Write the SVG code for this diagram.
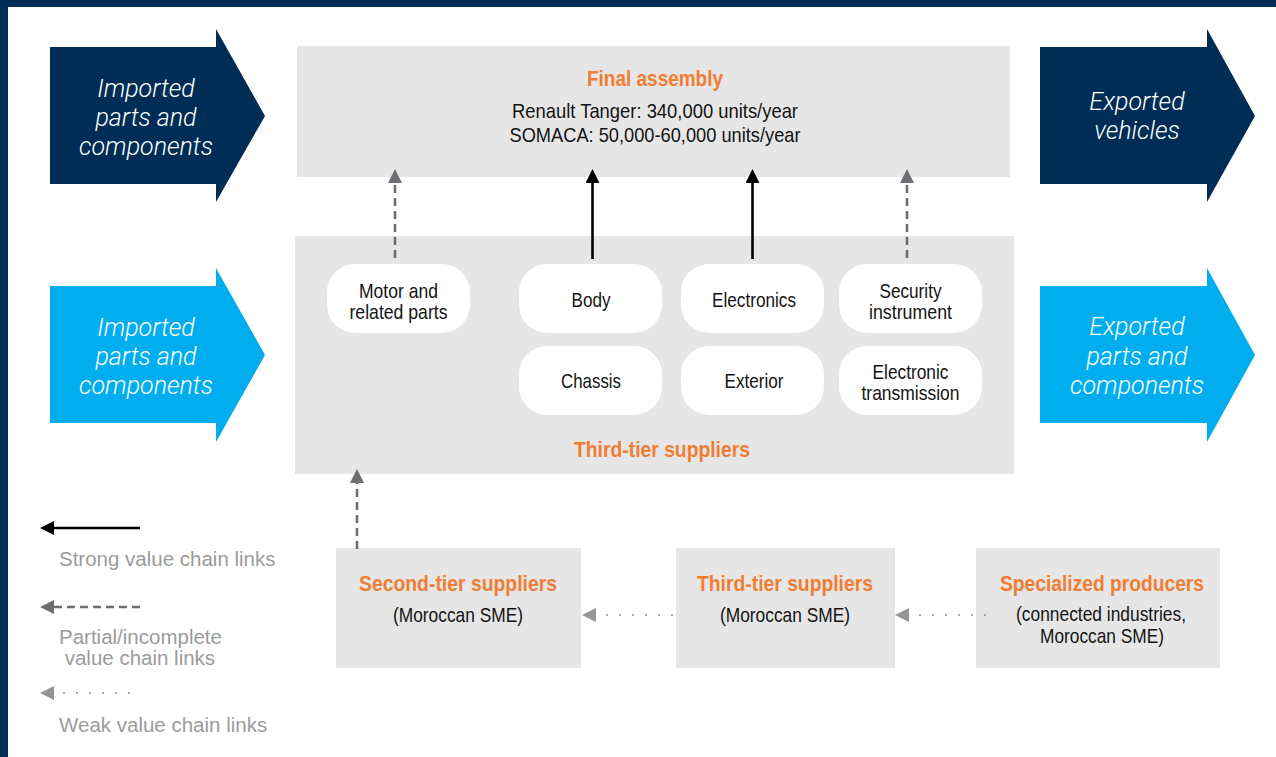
<svg xmlns="http://www.w3.org/2000/svg" width="1276" height="757" viewBox="0 0 1276 757">
  <style>
    .navy { fill: #002D56; }
    .cyan { fill: #00AEEF; }
    .box { fill: #E6E6E6; }
    .pill { fill: #FFFFFF; }
    .flowTxt { font-family: Roboto, "Liberation Sans", Arial, sans-serif; font-style: italic; font-weight: 300; font-size: 25px; fill: #FFFFFF; text-anchor: middle; }
    .cond { font-family: "Liberation Sans", Arial, sans-serif; text-anchor: middle; }
    .title { font-weight: bold; font-size: 22px; fill: #F07D33; }
    .body { font-size: 21px; fill: #141414; }
    .legend { font-family: "Liberation Sans", Arial, sans-serif; font-size: 20.5px; fill: #9B9B9B; }
    .strong { stroke: #000000; stroke-width: 2.6; fill: none; }
    .partial { stroke: #6D6E71; stroke-width: 2.6; stroke-dasharray: 8 5; fill: none; }
    .weak { stroke: #A7A9AC; stroke-width: 2; stroke-dasharray: 2 11; fill: none; }
  </style>
  <defs>
    <marker id="headStrong" viewBox="0 0 14 14" refX="0" refY="7" markerWidth="14" markerHeight="14" markerUnits="userSpaceOnUse" orient="auto">
      <path d="M0,0 L14,7 L0,14 Z" fill="#000000"/>
    </marker>
    <marker id="headPartial" viewBox="0 0 14 14" refX="0" refY="7" markerWidth="14" markerHeight="14" markerUnits="userSpaceOnUse" orient="auto">
      <path d="M0,0 L14,7 L0,14 Z" fill="#6D6E71"/>
    </marker>
    <marker id="headWeak" viewBox="0 0 14 14" refX="0" refY="7" markerWidth="14" markerHeight="14" markerUnits="userSpaceOnUse" orient="auto">
      <path d="M0,0 L14,7 L0,14 Z" fill="#939598"/>
    </marker>
  </defs>

  <!-- page and frame -->
  <rect x="0" y="0" width="1276" height="757" fill="#FFFFFF"/>
  <rect class="navy" x="0" y="0" width="1276" height="7"/>
  <rect class="navy" x="0" y="0" width="8" height="757"/>

  <!-- inflow / outflow arrows -->
  <g id="imported-vehicles-parts">
    <polygon class="navy" points="50,47 216,47 216,29 265,116 216,202 216,184 50,184"/>
    <text class="flowTxt"><tspan x="146" y="97">Imported</tspan><tspan x="146" y="126">parts and</tspan><tspan x="146" y="155">components</tspan></text>
  </g>
  <g id="imported-parts">
    <polygon class="cyan" points="50,286 216,286 216,268 265,355 216,442 216,423 50,423"/>
    <text class="flowTxt"><tspan x="146" y="336">Imported</tspan><tspan x="146" y="365">parts and</tspan><tspan x="146" y="394">components</tspan></text>
  </g>
  <g id="exported-vehicles">
    <polygon class="navy" points="1040,47 1207,47 1207,29 1255,116 1207,202 1207,184 1040,184"/>
    <text class="flowTxt"><tspan x="1137" y="110">Exported</tspan><tspan x="1137" y="139">vehicles</tspan></text>
  </g>
  <g id="exported-parts">
    <polygon class="cyan" points="1040,286 1207,286 1207,268 1255,355 1207,442 1207,423 1040,423"/>
    <text class="flowTxt"><tspan x="1137" y="335">Exported</tspan><tspan x="1137" y="365">parts and</tspan><tspan x="1137" y="394">components</tspan></text>
  </g>

  <!-- final assembly -->
  <g id="final-assembly">
    <rect class="box" x="297" y="46" width="713" height="131"/>
    <text class="cond title" x="655" y="86" textLength="136" lengthAdjust="spacingAndGlyphs">Final assembly</text>
    <text class="cond body" x="655" y="118" textLength="286" lengthAdjust="spacingAndGlyphs">Renault Tanger: 340,000 units/year</text>
    <text class="cond body" x="655" y="142" textLength="291" lengthAdjust="spacingAndGlyphs">SOMACA: 50,000-60,000 units/year</text>
  </g>

  <!-- third-tier suppliers cluster -->
  <g id="third-tier-cluster">
    <rect class="box" x="295" y="236" width="719" height="238"/>
    <text class="cond title" x="662" y="457" textLength="176" lengthAdjust="spacingAndGlyphs">Third-tier suppliers</text>
  </g>
  <g id="motor">
    <rect class="pill" x="327" y="264" width="143" height="69" rx="28"/>
    <text class="cond body" x="398.5" y="298" textLength="79" lengthAdjust="spacingAndGlyphs">Motor and</text>
    <text class="cond body" x="398.5" y="319" textLength="98" lengthAdjust="spacingAndGlyphs">related parts</text>
  </g>
  <g id="body">
    <rect class="pill" x="519" y="264" width="143" height="69" rx="28"/>
    <text class="cond body" x="591" y="307" textLength="39" lengthAdjust="spacingAndGlyphs">Body</text>
  </g>
  <g id="electronics">
    <rect class="pill" x="681" y="264" width="143" height="69" rx="28"/>
    <text class="cond body" x="754" y="307" textLength="84" lengthAdjust="spacingAndGlyphs">Electronics</text>
  </g>
  <g id="security">
    <rect class="pill" x="839" y="264" width="143" height="69" rx="28"/>
    <text class="cond body" x="910.5" y="298" textLength="62" lengthAdjust="spacingAndGlyphs">Security</text>
    <text class="cond body" x="910.5" y="319" textLength="83" lengthAdjust="spacingAndGlyphs">instrument</text>
  </g>
  <g id="chassis">
    <rect class="pill" x="519" y="346" width="143" height="69" rx="28"/>
    <text class="cond body" x="591" y="388" textLength="60" lengthAdjust="spacingAndGlyphs">Chassis</text>
  </g>
  <g id="exterior">
    <rect class="pill" x="681" y="346" width="143" height="69" rx="28"/>
    <text class="cond body" x="754" y="388" textLength="59" lengthAdjust="spacingAndGlyphs">Exterior</text>
  </g>
  <g id="transmission">
    <rect class="pill" x="839" y="346" width="143" height="69" rx="28"/>
    <text class="cond body" x="910.5" y="379" textLength="76" lengthAdjust="spacingAndGlyphs">Electronic</text>
    <text class="cond body" x="910.5" y="400" textLength="98" lengthAdjust="spacingAndGlyphs">transmission</text>
  </g>

  <!-- domestic supplier tiers -->
  <g id="second-tier">
    <rect class="box" x="336" y="548" width="245" height="120"/>
    <text class="cond title" x="458" y="591" textLength="198" lengthAdjust="spacingAndGlyphs">Second-tier suppliers</text>
    <text class="cond body" x="458" y="622" textLength="130" lengthAdjust="spacingAndGlyphs">(Moroccan SME)</text>
  </g>
  <g id="third-tier">
    <rect class="box" x="676" y="548" width="219" height="120"/>
    <text class="cond title" x="785" y="591" textLength="176" lengthAdjust="spacingAndGlyphs">Third-tier suppliers</text>
    <text class="cond body" x="785" y="622" textLength="130" lengthAdjust="spacingAndGlyphs">(Moroccan SME)</text>
  </g>
  <g id="specialized">
    <rect class="box" x="976" y="548" width="244" height="120"/>
    <text class="cond title" x="1102" y="591" textLength="204" lengthAdjust="spacingAndGlyphs">Specialized producers</text>
    <text class="cond body" x="1101" y="621" textLength="170" lengthAdjust="spacingAndGlyphs">(connected industries,</text>
    <text class="cond body" x="1102" y="643" textLength="124" lengthAdjust="spacingAndGlyphs">Moroccan SME)</text>
  </g>

  <!-- value chain links -->
  <g id="connectors">
    <path class="partial" d="M395,258 V183" marker-end="url(#headPartial)"/>
    <path class="strong" d="M592.5,259 V183" marker-end="url(#headStrong)"/>
    <path class="strong" d="M752.5,259 V183" marker-end="url(#headStrong)"/>
    <path class="partial" d="M907,258 V183" marker-end="url(#headPartial)"/>
    <path class="partial" d="M357,549 V483" marker-end="url(#headPartial)"/>
    <path class="weak" d="M673,615 H596" marker-end="url(#headWeak)"/>
    <path class="weak" d="M986,615 H909" marker-end="url(#headWeak)"/>
  </g>

  <!-- legend -->
  <g id="legend">
    <path class="strong" d="M140,528 H54" stroke-width="2" marker-end="url(#headStrong)"/>
    <text class="legend" x="59" y="566">Strong value chain links</text>
    <path class="partial" d="M140,607 H54" marker-end="url(#headPartial)"/>
    <text class="legend"><tspan x="59" y="644">Partial/incomplete</tspan><tspan x="59" y="665"> value chain links</tspan></text>
    <path class="weak" d="M130,693 H54" marker-end="url(#headWeak)"/>
    <text class="legend" x="59" y="732">Weak value chain links</text>
  </g>
</svg>
